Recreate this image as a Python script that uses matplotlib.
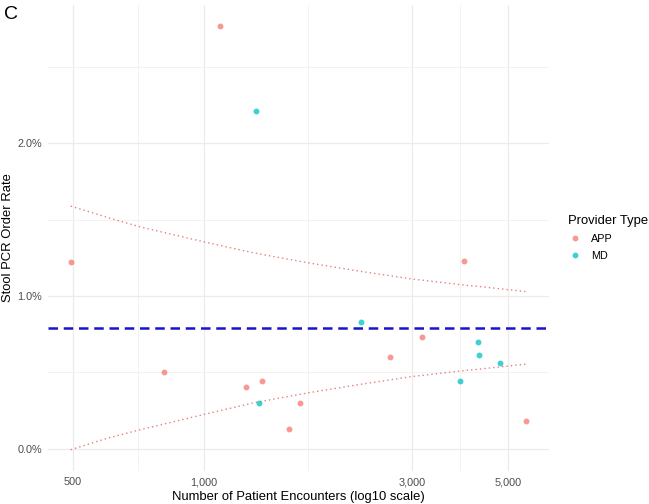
import numpy as np
import matplotlib
matplotlib.use('Agg')
import matplotlib.pyplot as plt
from matplotlib.ticker import FixedLocator, FuncFormatter, NullFormatter
from matplotlib.lines import Line2D

plt.rcParams['font.family'] = ['Liberation Sans', 'DejaVu Sans']

# provider encounters and stool PCR order rate (%)
app_n = [495, 809, 1087, 1253, 1357, 1573, 1667, 2681, 3175, 3965, 5497]
app_rate = [1.222, 0.503, 2.765, 0.405, 0.444, 0.131, 0.300, 0.601, 0.732, 1.229, 0.183]
md_n = [1321, 1336, 2300, 3880, 4268, 4290, 4793]
md_rate = [2.209, 0.300, 0.830, 0.444, 0.699, 0.614, 0.562]

mean_rate = 0.791

# funnel limits
limit_n = [495, 600, 716, 1004, 1300, 1739, 2300, 3000, 3870, 4500, 5497]
upper_limit = [1.588, 1.514, 1.451, 1.353, 1.282, 1.216, 1.160, 1.111, 1.074, 1.055, 1.028]
lower_limit = [-0.007, 0.068, 0.125, 0.225, 0.300, 0.366, 0.422, 0.472, 0.508, 0.527, 0.554]

x_ticks = [500, 1000, 3000, 5000]
x_minor = [707, 1732, 3873]
y_ticks = [0.0, 1.0, 2.0]
y_minor = [0.5, 1.5, 2.5]

app_color = '#F8766D'
md_color = '#00BFC4'

fig = plt.figure(figsize=(6.49, 5.04), dpi=100)
ax = fig.add_axes([48 / 649, 1 - 471 / 504, 501 / 649, 466 / 504])

ax.set_xscale('log')
ax.set_xlim(439, 6199)
ax.set_ylim(-0.146, 2.904)

ax.xaxis.set_major_locator(FixedLocator(x_ticks))
ax.xaxis.set_minor_locator(FixedLocator(x_minor))
ax.xaxis.set_major_formatter(FuncFormatter(lambda v, p: f'{int(v):,}'))
ax.xaxis.set_minor_formatter(NullFormatter())
ax.yaxis.set_major_locator(FixedLocator(y_ticks))
ax.yaxis.set_minor_locator(FixedLocator(y_minor))
ax.yaxis.set_major_formatter(FuncFormatter(lambda v, p: f'{v:.1f}%'))

ax.grid(which='major', color='#EBEBEB', linewidth=0.9)
ax.grid(which='minor', color='#F0F0F0', linewidth=0.6)
ax.set_axisbelow(True)
for s in ax.spines.values():
    s.set_visible(False)
ax.tick_params(which='both', length=0, labelsize=7.8, labelcolor='#4D4D4D', pad=4.5)

ax.plot(limit_n, upper_limit, color='#E04848', alpha=0.7, linewidth=1.0,
        linestyle=(0, (1, 2.2)), zorder=2)
ax.plot(limit_n, lower_limit, color='#E04848', alpha=0.7, linewidth=1.0,
        linestyle=(0, (1, 2.2)), zorder=2)
ax.axhline(mean_rate, color='#1515D0', linewidth=1.8, dashes=(3.8, 2.3), zorder=2)

ax.scatter(app_n, app_rate, s=18, color=app_color, alpha=0.75, linewidths=0, zorder=3)
ax.scatter(md_n, md_rate, s=18, color=md_color, alpha=0.75, linewidths=0, zorder=3)

ax.set_xlabel('Number of Patient Encounters (log10 scale)', fontsize=9.4, labelpad=3)
ax.set_ylabel('Stool PCR Order Rate', fontsize=9.4, labelpad=2)

fig.text(4 / 649, 1 - 19 / 504, 'C', fontsize=14, va='baseline', ha='left')

handles = [
    Line2D([], [], marker='o', linestyle='', color=app_color, alpha=0.75, markersize=4.2, markeredgewidth=0),
    Line2D([], [], marker='o', linestyle='', color=md_color, alpha=0.75, markersize=4.2, markeredgewidth=0),
]
leg = fig.legend(handles, ['APP', 'MD'], title='Provider Type', loc='upper left',
                 bbox_to_anchor=(568 / 649, 1 - 215 / 504), frameon=False,
                 fontsize=7.8, title_fontsize=9.4, borderpad=0, borderaxespad=0,
                 handlelength=1.2, handletextpad=0.9, labelspacing=0.65)
leg._legend_box.align = 'left'

fig.savefig('out.png', dpi=100)
